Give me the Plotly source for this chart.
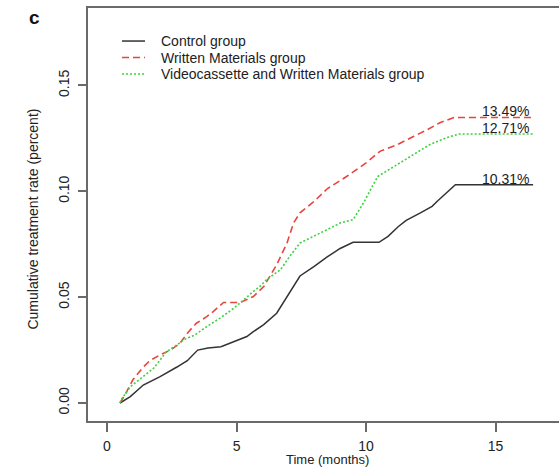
import plotly.graph_objects as go

# Cumulative treatment rate by month for each study arm
control_months = [0.5, 0.9, 1.4, 2.05, 2.7, 3.1, 3.5, 3.9, 4.4, 4.9, 5.4, 5.65, 6.05, 6.55,
                  7.0, 7.45, 8.0, 8.5, 9.0, 9.5, 10.5, 10.85, 11.25, 11.55, 12.1, 12.55,
                  12.75, 13.1, 13.45, 16.45]
control_rate = [0.0, 0.003, 0.0085, 0.0125, 0.017, 0.020, 0.025, 0.026, 0.0266, 0.029, 0.0314,
                0.0337, 0.037, 0.0424, 0.051, 0.060, 0.0645, 0.069, 0.073, 0.0759, 0.0759,
                0.0787, 0.0834, 0.0863, 0.0898, 0.0929, 0.0953, 0.0992, 0.1031, 0.1031]

written_months = [0.5, 0.7, 1.0, 1.4, 1.65, 2.05, 2.45, 2.8, 3.15, 3.45, 3.85, 4.1, 4.5, 5.15,
                  5.65, 6.05, 6.55, 6.95, 7.2, 7.45, 8.0, 8.5, 9.25, 10.0, 10.55, 11.2, 11.85,
                  12.35, 12.85, 13.4, 16.45]
written_rate = [0.0, 0.004, 0.011, 0.017, 0.020, 0.0227, 0.025, 0.028, 0.0337, 0.0377, 0.0408,
                0.0432, 0.0475, 0.0475, 0.0503, 0.055, 0.0653, 0.0756, 0.085, 0.0898, 0.0953,
                0.1012, 0.107, 0.1134, 0.119, 0.122, 0.126, 0.129, 0.1324, 0.1349, 0.1349]

video_months = [0.5, 0.57, 0.9, 1.4, 1.8, 2.3, 2.7, 2.95, 3.4, 3.85, 4.35, 4.9, 5.4, 5.65, 5.9,
                6.15, 6.7, 7.05, 7.45, 8.0, 8.5, 9.0, 9.5, 9.9, 10.3, 10.45, 11.2, 11.85,
                12.45, 13.1, 13.6, 16.45]
video_rate = [0.0, 0.002, 0.0077, 0.0125, 0.0164, 0.0243, 0.0274, 0.0298, 0.0322, 0.0361, 0.040,
              0.0448, 0.0503, 0.0527, 0.055, 0.0582, 0.063, 0.0692, 0.0756, 0.0787, 0.0819,
              0.085, 0.0866, 0.0945, 0.104, 0.107, 0.1126, 0.1174, 0.122, 0.1253, 0.1271, 0.1271]

group_names = ["Control group", "Written Materials group",
               "Videocassette and Written Materials group"]
final_labels = ["10.31%", "13.49%", "12.71%"]
x_ticks = [0, 5, 10, 15]
y_ticks = [0.00, 0.05, 0.10, 0.15]
y_tick_text = ["0.00", "0.05", "0.10", "0.15"]

FONT = "Liberation Sans, Arial, Helvetica, sans-serif"
TEXT = "#222222"
AXIS = "#6a6a6a"

styles = [
    dict(color="#333333", width=1.5, dash="solid"),
    dict(color="#e8453e", width=1.6, dash="7px,4px"),
    dict(color="#3fcf3f", width=1.6, dash="2px,2px"),
]
series = [(control_months, control_rate), (written_months, written_rate),
          (video_months, video_rate)]

fig = go.Figure()
for (xs, ys), name, st in zip(series, group_names, styles):
    fig.add_trace(go.Scatter(x=xs, y=ys, mode="lines", name=name, line=st,
                             showlegend=False, hoverinfo="skip"))

# Final-rate labels sitting on the plateau of each curve
for (xs, ys), lab in zip(series, final_labels):
    fig.add_annotation(x=16.37, y=ys[-1], xref="x", yref="y", text=lab,
                       showarrow=False, xanchor="right", yanchor="middle", yshift=6,
                       font=dict(family=FONT, size=14, color=TEXT))

# Legend drawn by hand in the upper-left corner
legend_rows = [0.920, 0.880, 0.840]
for name, st, yy in zip(group_names, styles, legend_rows):
    fig.add_shape(type="line", xref="paper", yref="paper", x0=0.0722, x1=0.121,
                  y0=yy, y1=yy, line=dict(color=st["color"], width=1.5, dash=st["dash"]))
    fig.add_annotation(x=0.150, y=yy, xref="paper", yref="paper", text=name,
                       showarrow=False, xanchor="left", yanchor="middle",
                       font=dict(family=FONT, size=14, color=TEXT))

# Panel letter and axis titles
fig.add_annotation(x=-0.1146, y=0.978, xref="paper", yref="paper", text="<b>c</b>",
                   showarrow=False, xanchor="center", yanchor="middle",
                   font=dict(family=FONT, size=19, color="#111111"))
fig.add_annotation(x=-0.117, y=0.49, xref="paper", yref="paper",
                   text="Cumulative treatment rate (percent)", textangle=-90,
                   showarrow=False, xanchor="center", yanchor="middle",
                   font=dict(family=FONT, size=14, color=TEXT))
fig.add_annotation(x=0.509, y=-0.1162, xref="paper", yref="paper", text="Time (months)",
                   showarrow=False, xanchor="center", yanchor="bottom",
                   font=dict(family=FONT, size=13, color=TEXT))

fig.update_xaxes(range=[-0.734, 17.45], tickvals=x_ticks, ticks="outside", ticklen=9,
                 tickwidth=1.5, tickcolor=AXIS, showline=True, linecolor=AXIS, linewidth=1.5,
                 mirror=True, showgrid=False, zeroline=False, ticklabelstandoff=2,
                 tickfont=dict(family=FONT, size=14, color=TEXT))
fig.update_yaxes(range=[-0.0085, 0.1866], tickvals=y_ticks, ticktext=y_tick_text,
                 tickangle=-90, ticks="outside", ticklen=8, tickwidth=1.5, tickcolor=AXIS,
                 showline=True, linecolor=AXIS, linewidth=1.5, showgrid=False,
                 zeroline=False, ticklabelstandoff=4,
                 tickfont=dict(family=FONT, size=14, color=TEXT))

fig.update_layout(width=559, height=470, margin=dict(l=88, r=0, t=8, b=49),
                  paper_bgcolor="white", plot_bgcolor="white", showlegend=False)

fig.write_html("out.html")
